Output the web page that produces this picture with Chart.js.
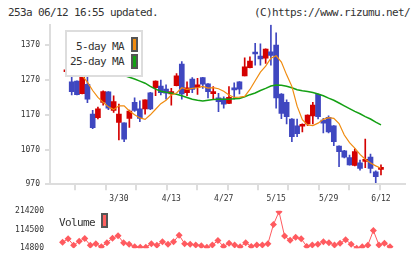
<!DOCTYPE html>
<html>
<head>
<meta charset="utf-8">
<script src="https://cdn.jsdelivr.net/npm/chart.js@4.4.1/dist/chart.umd.min.js"></script>
<style>
  body { margin: 0; background: #fff; }
  #wrap { position: relative; width: 420px; height: 259px; overflow: hidden; font-family: "DejaVu Sans Mono", monospace; color: #333; }
  .txt { position: absolute; font-size: 11px; letter-spacing: -0.62px; line-height: 12px; white-space: nowrap; }
  canvas { position: absolute; left: 0; }
  #main { top: 0; }
  #vol { top: 200px; }
  .box { position: absolute; box-sizing: border-box; width: 7px; height: 15px; border: 2px solid #555; }
</style>
</head>
<body>
<div id="wrap">
  <div class="txt" style="left:8px; top:7px;">253a 06/12 16:55 updated.</div>
  <div class="txt" style="right:10px; top:7px;">(C)https://www.rizumu.net/</div>
  <canvas id="main" width="420" height="205"></canvas>
  <canvas id="vol" width="420" height="59"></canvas>
  <div style="position:absolute; left:65px; top:30px; width:78px; height:47px; box-sizing:border-box; border:2px solid #ddd; background:#fff;"></div>
  <div class="txt" style="right:296px; top:41px;">5-day MA</div>
  <div class="box" style="left:131px; top:37px; background:#f08c10;"></div>
  <div class="txt" style="right:296px; top:56px;">25-day MA</div>
  <div class="box" style="left:131px; top:54px; background:#14a014;"></div>
  <div class="txt" style="left:59px; top:217px;">Volume</div>
  <div class="box" style="left:101px; top:213px; background:#ff6060;"></div>
</div>
<script>
// daily candles, index 0 = 3/16 ... index 60 = 6/12
const opens  = [1294,1265,1267,1231,1258,1172,1162,1206,1236,1183,1148,1147,1160,1206,1187,1187,1233,1248,1253,1244,
                1230,1254,1316,1234,1273,1249,1277,1259,1231,1219,1216,1203,1248,1265,1282,1306,1347,1339,1333,1351,
                1371,1230,1206,1158,1138,1137,1144,1167,1229,1155,1163,1138,1080,1066,1047,1024,1032,1036,1048,1006,1013]
const closes = [1296,1237,1228,1287,1215,1133,1187,1237,1189,1208,1172,1100,1181,1183,1160,1213,1187,1267,1234,1232,
                1237,1282,1230,1248,1243,1256,1258,1237,1233,1208,1201,1220,1242,1244,1308,1325,1345,1331,1359,1341,
                1219,1174,1165,1107,1116,1139,1169,1198,1165,1146,1121,1093,1064,1048,1026,1064,1016,1038,1016,992,1015]
const highs  = [1296,1287,1268,1296,1282,1183,1192,1239,1237,1225,1201,1147,1184,1219,1210,1213,1235,1268,1270,1256,
                1246,1289,1323,1265,1277,1275,1278,1260,1251,1232,1222,1251,1262,1266,1334,1337,1376,1374,1360,1428,
                1406,1231,1213,1159,1158,1144,1170,1206,1230,1160,1167,1139,1081,1068,1054,1072,1040,1100,1057,1009,1026]
const lows   = [1294,1227,1227,1230,1205,1130,1158,1198,1185,1177,1098,1093,1134,1180,1150,1172,1185,1225,1227,1215,
                1198,1253,1215,1225,1234,1229,1246,1219,1215,1179,1189,1202,1215,1230,1282,1305,1313,1313,1318,1313,
                1189,1159,1144,1093,1107,1121,1139,1144,1158,1118,1118,1081,1021,1046,1025,1023,1011,1018,1003,975,997]

const ma5  = [null,1315,1300,1283,1264,1240,1220,1206,1193,1185,1196,1196,1181,1170,1161,1157,1170,1186,1202,1212,
              1227,1233,1248,1243,1246,1248,1252,1247,1248,1245,1238,1227,1220,1221,1223,1243,1268,1293,1310,1333,
              1340,1322,1285,1252,1195,1156,1141,1139,1146,1157,1162,1160,1145,1112,1090,1074,1056,1042,1031,1023,1016]
const ma25 = [null,1330,1327,1322,1318,1312,1307,1301,1297,1292,1288,1283,1278,1273,1267,1261,1252,1244,1238,1235,
              1233,1229,1225,1220,1215,1212,1210,1212,1214,1215,1215,1215,1216,1217,1222,1228,1233,1240,1246,1253,
              1256,1255,1252,1248,1242,1239,1237,1234,1230,1225,1218,1212,1204,1196,1188,1180,1173,1165,1158,1149,1141]

const volume = [null,46900,64900,30800,51800,66300,30800,39100,22600,44000,68300,80900,44000,35700,22600,19700,19700,39100,30800,48800,
                35700,48800,84300,39100,35700,32300,27400,19700,32300,55200,24500,40600,32300,22600,44000,24500,32300,32300,39100,141200,
                209300,79500,56600,73200,64900,24500,32300,35700,48800,44000,32300,40600,60000,35700,14800,22600,30800,108700,32300,40600,22600]

const dateIdx = [10, 20, 30, 40, 50, 60]
const dateLabels = ['3/30', '4/13', '4/27', '5/15', '5/29', '6/12']
const priceTicks = [970, 1070, 1170, 1270, 1370]
const volumeTicks = [14800, 114500, 214200]

const X_MIN = -1.26, X_MAX = 62.7
const UP = '#d40000', DOWN = '#3f47c0'
const GRAY = '#dddddd'
const tickFont = { family: 'DejaVu Sans Mono', size: 8 }

const candleColors = closes.map((c, i) => c >= opens[i] ? UP : DOWN)
const pts = (arr) => arr.map((v, i) => ({ x: i, y: v }))

new Chart(document.getElementById('main'), {
  type: 'bar',
  data: {
    datasets: [
      { type: 'line', data: pts(ma5), borderColor: '#f08c10', borderWidth: 1.2, pointRadius: 0, order: 0 },
      { type: 'line', data: pts(ma25), borderColor: '#14a014', borderWidth: 1.5, pointRadius: 0, order: 1 },
      { data: opens.map((o, i) => ({ x: i, y: [o, closes[i]] })), backgroundColor: candleColors,
        barThickness: 5, minBarLength: 2, grouped: false, order: 2 },
      { data: lows.map((l, i) => ({ x: i, y: [l, highs[i]] })), backgroundColor: candleColors,
        barThickness: 1, grouped: false, order: 3 },
    ],
  },
  options: {
    responsive: false,
    animation: false,
    layout: { padding: { top: 24.5, right: 15, left: 0, bottom: 0 } },
    plugins: { legend: { display: false }, tooltip: { enabled: false } },
    scales: {
      x: {
        type: 'linear', min: X_MIN, max: X_MAX,
        afterBuildTicks: (s) => {
          const marks = []
          for (let k = 0; k <= 11; k++) marks.push({ value: X_MIN + k * (X_MAX - X_MIN) / 11 })
          s.ticks = marks.concat(dateIdx.map(v => ({ value: v, isDate: true })))
        },
        afterFit: (s) => { s.height = 20.7 },
        grid: {
          drawOnChartArea: false, tickLength: 6, lineWidth: 2,
          color: (c) => (c.tick && c.tick.isDate) ? 'rgba(0,0,0,0)' : GRAY,
        },
        border: { color: GRAY, width: 2 },
        ticks: {
          autoSkip: false, maxRotation: 0, padding: 4, color: '#333', font: tickFont,
          callback: (v, i, ticks) => ticks[i].isDate ? dateLabels[dateIdx.indexOf(v)] : '',
        },
      },
      y: {
        min: 970, max: 1430,
        afterBuildTicks: (s) => { s.ticks = priceTicks.map(v => ({ value: v })) },
        afterFit: (s) => { s.width = 50 },
        grid: { drawOnChartArea: false, tickLength: 5, lineWidth: 2, color: GRAY },
        border: { color: GRAY, width: 2 },
        ticks: { padding: 5, color: '#333', font: tickFont, callback: (v) => String(v) },
      },
    },
  },
})

new Chart(document.getElementById('vol'), {
  type: 'line',
  data: {
    datasets: [{
      data: pts(volume), borderColor: '#ff5a5f', borderWidth: 1,
      pointStyle: 'rectRot', pointRadius: 3.5, pointBackgroundColor: '#ff5a5f', pointBorderWidth: 0,
    }],
  },
  options: {
    responsive: false,
    animation: false,
    layout: { padding: { top: 8.3, right: 15, left: 0, bottom: 9.7 } },
    plugins: { legend: { display: false }, tooltip: { enabled: false } },
    scales: {
      x: { type: 'linear', min: X_MIN, max: X_MAX, display: false },
      y: {
        min: 14800, max: 214200,
        afterBuildTicks: (s) => { s.ticks = volumeTicks.map(v => ({ value: v })) },
        afterFit: (s) => { s.width = 50 },
        grid: { display: false, drawTicks: false },
        border: { display: false },
        ticks: { padding: 6, color: '#333', font: tickFont, callback: (v) => String(v) },
      },
    },
  },
})
</script>
</body>
</html>
